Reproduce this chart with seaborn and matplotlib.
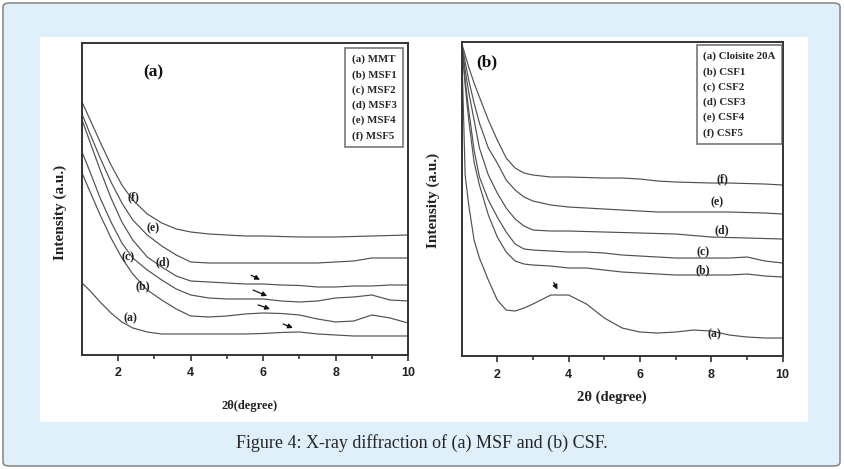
import matplotlib
matplotlib.use('Agg')
import matplotlib.pyplot as plt
from matplotlib.patches import FancyBboxPatch, Rectangle
import seaborn as sns
import pandas as pd

# ---- data (intensity in arbitrary units) ----
MSF_X = [1.0, 1.2, 1.5, 1.8, 2.1, 2.4, 2.8, 3.2, 3.6, 4.0, 4.5, 5.0, 5.5, 6.0,
         6.5, 7.0, 7.5, 8.0, 8.5, 9.0, 9.5, 10.0]
msf_a = [72, 65, 53, 42, 33, 27, 23, 21, 21, 21, 21, 21, 21, 21.5, 22.5, 23, 21, 20, 19, 19, 19, 19]
msf_b = [182, 165, 140, 117, 97, 81, 65, 55, 46, 39, 38, 39, 41, 42, 41.5, 40, 36, 33, 34, 40, 37, 32]
msf_c = [203, 185, 157, 133, 112, 97, 85, 75, 66, 60, 57, 56, 56, 56, 54, 53, 54, 57, 58, 60, 55, 54]
msf_d = [235, 215, 185, 157, 133, 115, 98, 88, 79, 74, 73, 72, 71, 71, 70, 69.5, 68, 68, 69, 69, 70, 70]
msf_e = [241, 223, 197, 173, 152, 135, 120, 109, 100, 93, 92, 92, 92, 92, 92, 92, 92, 93, 94, 97, 97, 97]
msf_f = [253, 237, 213, 190, 170, 155, 141, 132, 126, 123, 121, 120, 119, 119, 118.5, 118, 118, 118,
         118.5, 119, 119.5, 120]

CSF_X = [1.0, 1.1, 1.2, 1.35, 1.5, 1.75, 2.0, 2.25, 2.5, 2.75, 3.0, 3.5, 4.0, 4.5, 5.0,
         5.5, 6.0, 6.5, 7.0, 7.5, 8.0, 8.5, 9.0, 9.5, 10.0]
csf_a = [313, 181, 151, 116, 98, 76, 56, 46, 45, 48, 52, 61, 61, 52, 38, 28, 24, 23, 24, 26, 25, 21, 19, 18, 18]
csf_b = [313, 271, 236, 194, 171, 141, 119, 104, 95, 92, 91, 90, 88, 88, 86, 84, 83, 82, 81, 81, 81, 81, 82, 80, 79]
csf_c = [313, 276, 246, 206, 179, 156, 139, 124, 112, 107, 106, 105, 104, 104, 103, 101, 100, 99, 98, 98,
         98, 98, 99, 95, 93]
csf_d = [313, 286, 264, 236, 208, 181, 163, 148, 137, 130, 126, 125, 125, 124.5, 124, 123.5, 123, 122.5,
         122, 120.5, 119, 118.5, 118, 117.5, 117]
csf_e = [313, 294, 276, 253, 233, 208, 193, 176, 166, 159, 155, 151, 149, 148, 147, 146, 145, 144, 144,
         144, 144, 144, 143.5, 143, 142]
csf_f = [313, 301, 289, 273, 259, 236, 216, 198, 188, 183, 181, 179, 179, 178.5, 178, 178, 177, 175, 174,
         173.5, 173, 173, 172.5, 172, 171]

CURVE_TAGS = ['(a)', '(b)', '(c)', '(d)', '(e)', '(f)']
MSF_LEGEND = ['(a) MMT', '(b) MSF1', '(c) MSF2', '(d) MSF3', '(e) MSF4', '(f) MSF5']
CSF_LEGEND = ['(a) Cloisite 20A', '(b) CSF1', '(c) CSF2', '(d) CSF3', '(e) CSF4', '(f) CSF5']

# tag positions (x, y) next to the curves
MSF_TAG_POS = [(2.34, 37), (2.67, 69), (2.28, 98), (3.22, 93), (2.95, 127), (2.43, 158)]
CSF_TAG_POS = [(8.08, 22), (7.77, 86), (7.77, 104), (8.30, 126), (8.16, 154), (8.30, 177)]

# arrows marking the basal reflections (tail, head)
MSF_ARROWS = [((5.60, 81), (5.98, 74)), ((5.65, 66), (6.18, 58)),
              ((5.79, 51), (6.26, 45)), ((6.48, 32), (6.89, 26))]
CSF_ARROWS = [((3.55, 76), (3.72, 64))]

CAPTION = 'Figure 4: X-ray diffraction of (a) MSF and (b) CSF.'

LINE_COLOR = '#505050'
SERIF = ['Liberation Serif', 'DejaVu Serif']
SANS = ['Liberation Sans', 'DejaVu Sans']

sns.set_style('ticks')
plt.rcParams['font.family'] = SERIF


def long_frame(xs, series):
    rows = []
    for tag, ys in zip(CURVE_TAGS, series):
        for x, y in zip(xs, ys):
            rows.append({'x': x, 'y': y, 'sample': tag})
    return pd.DataFrame(rows)


def draw_panel(ax, df, ymax, legend_labels, legend_anchor, tag_pos, arrows, panel_tag, panel_pos):
    sns.lineplot(data=df, x='x', y='y', hue='sample', palette=[LINE_COLOR] * 6,
                 linewidth=0.85, estimator=None, sort=False, legend=False, ax=ax)
    ax.set_xlim(1, 10)
    ax.set_ylim(0, ymax)
    ax.set_xticks([2, 4, 6, 8, 10])
    ax.set_xticks([3, 5, 7, 9], minor=True)
    ax.set_yticks([])
    ax.tick_params(axis='x', which='major', direction='out', length=4, width=1.1,
                   pad=5, labelsize=9, colors='#222222')
    ax.tick_params(axis='x', which='minor', direction='out', length=3, width=1.1)
    for lab in ax.get_xticklabels():
        lab.set_fontfamily(SANS)
        lab.set_fontweight('bold')
    for sp in ax.spines.values():
        sp.set_visible(True)
        sp.set_color('#333333')
        sp.set_linewidth(1.4)

    leg = ax.legend(ax.lines[:6], legend_labels, loc='upper right', bbox_to_anchor=legend_anchor,
                    borderaxespad=0, handlelength=0, handletextpad=0, labelspacing=0.5,
                    borderpad=0.6, fancybox=False, frameon=True, edgecolor='#555555',
                    prop={'family': SERIF, 'weight': 'bold', 'size': 7.8})
    leg.get_frame().set_linewidth(1.2)
    for h in leg.legend_handles:
        h.set_visible(False)

    for tag, (tx, ty) in zip(CURVE_TAGS, tag_pos):
        ax.text(tx, ty, tag, ha='center', va='center', fontsize=8.5,
                fontweight='bold', color='#222222')
    for tail, head in arrows:
        ax.annotate('', xy=head, xytext=tail,
                    arrowprops=dict(arrowstyle='-|>', color='#111111', lw=0.9, mutation_scale=7))
    ax.text(panel_pos[0], panel_pos[1], panel_tag, transform=ax.transAxes, ha='center',
            va='center', fontsize=12.5, fontweight='bold', color='#111111')
    ax.set_ylabel('Intensity (a.u.)', fontsize=11, fontweight='bold', color='#222222')


fig = plt.figure(figsize=(8.44, 4.69), dpi=100)
fig.patch.set_facecolor('white')
fig.add_artist(FancyBboxPatch((3 / 844, 3 / 469), 837 / 844, 463 / 469,
                              boxstyle='round,pad=0,rounding_size=0.008',
                              transform=fig.transFigure, fc='#dff0fb', ec='#8c8c8c',
                              lw=1.2, zorder=-3))
fig.add_artist(Rectangle((40 / 844, 1 - 422 / 469), 768 / 844, 385 / 469,
                         transform=fig.transFigure, fc='white', ec='none', zorder=-2))

ax_a = fig.add_axes([0.0972, 0.2431, 0.3863, 0.6652])
ax_b = fig.add_axes([0.5469, 0.2409, 0.3805, 0.6695])

draw_panel(ax_a, long_frame(MSF_X, [msf_a, msf_b, msf_c, msf_d, msf_e, msf_f]), 312,
           MSF_LEGEND, (0.985, 0.984), MSF_TAG_POS, MSF_ARROWS, '(a)', (0.22, 0.905))
draw_panel(ax_b, long_frame(CSF_X, [csf_a, csf_b, csf_c, csf_d, csf_e, csf_f]), 314,
           CSF_LEGEND, (0.998, 0.990), CSF_TAG_POS, CSF_ARROWS, '(b)', (0.08, 0.936))

ax_a.set_xlabel('2θ(degree)', fontsize=9, fontweight='bold', color='#222222')
ax_b.set_xlabel('2θ (degree)', fontsize=10.5, fontweight='bold', color='#222222')
ax_a.xaxis.set_label_coords(0.515, -0.145)
ax_b.xaxis.set_label_coords(0.468, -0.111)
ax_a.yaxis.set_label_coords(-0.046, 0.458)
ax_b.yaxis.set_label_coords(-0.067, 0.497)

fig.text(0.5, 1 - 443 / 469, CAPTION, ha='center', va='center', fontsize=13,
         family=SERIF, color='#262626')

fig.savefig('out.png', dpi=100, facecolor=fig.get_facecolor())
